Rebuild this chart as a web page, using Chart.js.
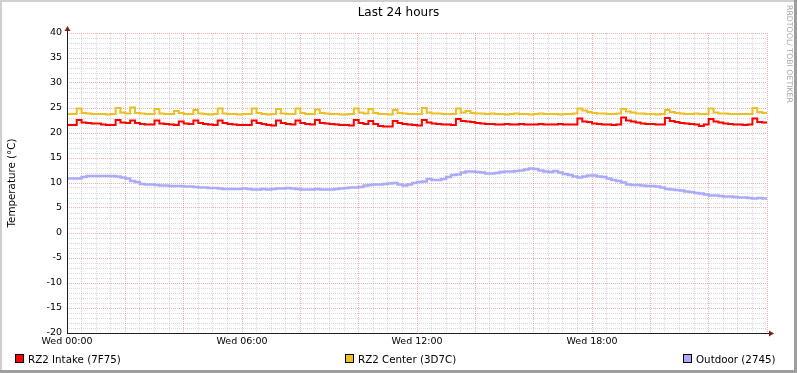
<!DOCTYPE html>
<html>
<head>
<meta charset="utf-8">
<title>Last 24 hours</title>
<script src="https://cdn.jsdelivr.net/npm/chart.js@4.4.1/dist/chart.umd.min.js"></script>
<style>
  html, body { margin: 0; padding: 0; background: #fff; }
  #wrap { width: 797px; height: 373px; }
</style>
</head>
<body>
<div id="wrap"><canvas id="tempChart" width="797" height="373"></canvas></div>
<script>
// 10 minute samples, Wed 00:00 -> Thu 00:00 (145 values each)
const intake = [
  21.6, 21.6, 22.6, 22.1, 22.0, 21.9, 21.9, 21.7, 21.6, 21.6,
  22.6, 22.1, 22.0, 22.5, 22.0, 21.8, 21.7, 21.7, 22.5, 21.9,
  21.8, 21.7, 21.6, 22.3, 21.9, 21.8, 22.5, 22.0, 21.8, 21.7,
  21.6, 22.5, 22.0, 21.8, 21.7, 21.6, 21.6, 21.6, 22.5, 22.0,
  21.8, 21.6, 21.5, 22.5, 22.0, 21.8, 21.7, 22.5, 22.0, 21.8,
  21.7, 22.6, 22.0, 21.9, 21.8, 21.7, 21.6, 21.6, 21.5, 22.6,
  22.0, 21.8, 22.4, 21.8, 21.4, 21.3, 21.3, 22.4, 22.0, 21.8,
  21.7, 21.6, 21.5, 22.6, 22.1, 21.9, 21.8, 21.7, 21.7, 21.6,
  22.8, 22.4, 22.3, 22.2, 22.0, 21.9, 21.8, 21.8, 21.7, 21.7,
  21.8, 21.7, 21.7, 21.8, 21.7, 21.7, 21.7, 21.8, 21.7, 21.7,
  21.7, 21.8, 21.7, 21.7, 21.7, 22.9, 22.3, 22.2, 21.9, 21.8,
  21.7, 21.7, 21.6, 21.7, 23.1, 22.5, 22.3, 22.1, 21.9, 21.8,
  21.8, 21.7, 21.7, 23.0, 22.4, 22.2, 22.0, 21.9, 21.8, 21.7,
  21.4, 21.7, 22.8, 22.3, 22.1, 21.9, 21.8, 21.7, 21.7, 21.6,
  21.7, 22.9, 22.2, 22.1, 22.0
];
const center = [
  23.8, 23.8, 24.9, 24.0, 23.9, 23.8, 23.8, 23.8, 23.7, 23.8,
  25.0, 24.1, 23.9, 25.1, 24.0, 23.9, 23.8, 23.8, 24.8, 23.9,
  23.8, 23.8, 24.4, 24.0, 23.8, 23.8, 24.6, 23.9, 23.8, 23.7,
  23.8, 24.9, 23.9, 23.8, 23.8, 23.7, 23.8, 23.8, 24.9, 24.0,
  23.8, 23.7, 23.8, 24.8, 23.9, 23.8, 23.8, 24.9, 24.0, 23.8,
  23.8, 24.7, 24.0, 23.9, 23.8, 23.8, 23.7, 23.7, 23.8, 24.9,
  24.1, 23.9, 24.8, 24.0, 23.8, 23.8, 23.7, 24.6, 24.0, 23.9,
  23.8, 23.8, 23.8, 25.0, 24.1, 23.9, 23.9, 23.8, 23.8, 23.8,
  24.9, 24.1, 24.4, 24.0, 23.9, 23.9, 23.8, 23.9, 23.8, 23.8,
  23.7, 23.8, 23.9, 23.8, 23.8, 23.7, 23.8, 23.9, 23.8, 23.8,
  23.8, 23.7, 23.8, 23.8, 23.9, 24.9, 24.5, 24.2, 24.0, 23.9,
  23.9, 23.8, 23.8, 23.9, 24.8, 24.3, 24.1, 23.9, 23.9, 23.8,
  23.8, 23.7, 23.8, 24.6, 24.2, 24.0, 23.9, 23.8, 23.8, 23.9,
  23.8, 23.8, 24.9, 24.1, 23.9, 23.9, 23.8, 23.8, 23.8, 23.8,
  23.8, 25.0, 24.2, 24.0, 23.9
];
const outdoor = [
  10.9, 10.9, 10.9, 11.2, 11.4, 11.4, 11.4, 11.4, 11.4, 11.4,
  11.3, 11.1, 10.9, 10.4, 10.2, 9.8, 9.7, 9.7, 9.6, 9.5,
  9.5, 9.4, 9.4, 9.4, 9.3, 9.3, 9.2, 9.1, 9.1, 9.0,
  9.0, 8.9, 8.8, 8.8, 8.8, 8.8, 8.9, 8.8, 8.7, 8.7,
  8.8, 8.7, 8.8, 8.9, 8.9, 9.0, 8.9, 8.8, 8.7, 8.7,
  8.7, 8.8, 8.7, 8.7, 8.7, 8.8, 8.9, 9.0, 9.1, 9.1,
  9.2, 9.5, 9.6, 9.7, 9.7, 9.8, 9.9, 10.0, 9.7, 9.5,
  9.7, 10.0, 10.2, 10.3, 10.8, 10.6, 10.6, 10.8, 11.2, 11.6,
  11.7, 12.1, 12.3, 12.3, 12.2, 12.1, 11.9, 11.9, 12.0, 12.2,
  12.3, 12.3, 12.4, 12.5, 12.7, 12.9, 12.8, 12.5, 12.3, 12.2,
  12.4, 12.1, 11.8, 11.6, 11.3, 11.1, 11.3, 11.5, 11.5, 11.3,
  11.2, 10.9, 10.6, 10.4, 10.1, 9.7, 9.6, 9.6, 9.5, 9.4,
  9.4, 9.3, 9.1, 8.8, 8.7, 8.6, 8.5, 8.3, 8.2, 8.0,
  7.9, 7.7, 7.5, 7.5, 7.4, 7.3, 7.3, 7.2, 7.1, 7.1,
  7.0, 6.9, 7.0, 6.9, 6.9
];

const seriesNames = ['RZ2 Intake (7F75)', 'RZ2 Center (3D7C)', 'Outdoor (2745)'];
const seriesColors = ['#FF0000', '#EAC024', '#AAAAF8'];
const xTickMinutes = [0, 360, 720, 1080];
const xTickLabels = ['Wed 00:00', 'Wed 06:00', 'Wed 12:00', 'Wed 18:00'];

const FONT = 'DejaVu Sans';
const minorGrid = 'rgba(140, 140, 140, 0.33)';
const majorGrid = 'rgba(222, 79, 79, 0.45)';

// minutes since Wed 00:00 for each sample
const toPoints = arr => arr.map((v, i) => ({ x: i * 10, y: v }));

// frame, title, axes with arrows, legend and watermark (rrdtool look)
const rrdDecor = {
  id: 'rrdDecor',
  beforeDraw(chart) {
    const ctx = chart.ctx;
    const w = chart.width, h = chart.height;
    ctx.save();
    ctx.fillStyle = '#FFFFFF';
    ctx.fillRect(0, 0, w, h);
    ctx.fillStyle = '#CFCFCF';
    ctx.fillRect(0, 0, w, 2);
    ctx.fillRect(0, 0, 2, h);
    ctx.fillStyle = '#9E9E9E';
    ctx.fillRect(0, h - 3, w, 3);
    ctx.fillRect(w - 3, 0, 3, h);
    ctx.restore();
  },
  afterDraw(chart) {
    const ctx = chart.ctx;
    const area = chart.chartArea;
    ctx.save();

    // title
    ctx.fillStyle = '#000';
    ctx.font = '12px "' + FONT + '"';
    ctx.textAlign = 'center';
    ctx.textBaseline = 'middle';
    ctx.fillText('Last 24 hours', chart.width / 2, 13);

    // axis lines
    ctx.strokeStyle = '#1F1F1F';
    ctx.lineWidth = 1;
    ctx.beginPath();
    ctx.moveTo(area.left + 0.5, area.bottom + 0.5);
    ctx.lineTo(area.left + 0.5, area.top - 4);
    ctx.moveTo(area.left, area.bottom + 0.5);
    ctx.lineTo(area.right + 3, area.bottom + 0.5);
    ctx.stroke();
    ctx.fillStyle = '#801F1F';
    ctx.beginPath();
    ctx.moveTo(area.left - 2.5, area.top - 2);
    ctx.lineTo(area.left + 3.5, area.top - 2);
    ctx.lineTo(area.left + 0.5, area.top - 7);
    ctx.closePath();
    ctx.fill();
    ctx.beginPath();
    ctx.moveTo(area.right + 2, area.bottom - 2.5);
    ctx.lineTo(area.right + 2, area.bottom + 3.5);
    ctx.lineTo(area.right + 7, area.bottom + 0.5);
    ctx.closePath();
    ctx.fill();

    // y unit title
    ctx.fillStyle = '#000';
    ctx.font = '10.3px "' + FONT + '"';
    ctx.translate(12, (area.top + area.bottom) / 2);
    ctx.rotate(-Math.PI / 2);
    ctx.textAlign = 'center';
    ctx.textBaseline = 'middle';
    ctx.fillText('Temperature (°C)', 0, 0);
    ctx.setTransform(1, 0, 0, 1, 0, 0);

    // watermark
    ctx.fillStyle = '#A8A8A8';
    ctx.font = '7.8px "' + FONT + '"';
    ctx.translate(789, 5);
    ctx.rotate(Math.PI / 2);
    ctx.textAlign = 'left';
    ctx.textBaseline = 'middle';
    ctx.fillText('RRDTOOL/ TOBI OETIKER', 0, 0);
    ctx.setTransform(1, 0, 0, 1, 0, 0);

    // legend
    const legendX = [15, 345, 683];
    ctx.font = '10.3px "' + FONT + '"';
    ctx.textAlign = 'left';
    ctx.textBaseline = 'alphabetic';
    seriesNames.forEach((name, i) => {
      const x = legendX[i];
      ctx.fillStyle = seriesColors[i];
      ctx.fillRect(x, 354, 9, 9);
      ctx.strokeStyle = '#000';
      ctx.strokeRect(x + 0.5, 354.5, 8, 8);
      ctx.fillStyle = '#000';
      ctx.fillText(name, x + 13, 362.5);
    });
    ctx.restore();
  }
};

new Chart(document.getElementById('tempChart'), {
  type: 'line',
  data: {
    datasets: [
      { label: seriesNames[0], data: toPoints(intake), borderColor: seriesColors[0], borderWidth: 2 },
      { label: seriesNames[1], data: toPoints(center), borderColor: seriesColors[1], borderWidth: 2 },
      { label: seriesNames[2], data: toPoints(outdoor), borderColor: seriesColors[2], borderWidth: 2.5 }
    ]
  },
  options: {
    responsive: false,
    animation: false,
    events: [],
    datasets: {
      line: { stepped: true, pointRadius: 0, fill: false, tension: 0 }
    },
    layout: { padding: { left: 0, top: 33, right: 30, bottom: 20 } },
    plugins: {
      legend: { display: false },
      title: { display: false },
      tooltip: { enabled: false }
    },
    scales: {
      x: {
        type: 'linear',
        min: 0,
        max: 1440,
        afterFit: s => { s.height = 20; },
        border: { display: false, dash: [1, 1] },
        grid: {
          drawTicks: false,
          color: c => (c.tick && c.tick.value % 120 === 0) ? majorGrid : minorGrid
        },
        ticks: {
          stepSize: 30,
          autoSkip: false,
          maxRotation: 0,
          padding: 3,
          color: '#000',
          font: { family: FONT, size: 9.5 },
          callback: v => {
            const k = xTickMinutes.indexOf(v);
            return k >= 0 ? xTickLabels[k] : '';
          }
        }
      },
      y: {
        min: -20,
        max: 40,
        afterFit: s => { s.width = 67; },
        border: { display: false, dash: [1, 1] },
        grid: {
          drawTicks: false,
          color: c => (c.tick && c.tick.value % 5 === 0) ? majorGrid : minorGrid
        },
        ticks: {
          stepSize: 1,
          autoSkip: false,
          padding: 5,
          color: '#000',
          font: { family: FONT, size: 9.5 },
          callback: v => (v % 5 === 0 ? String(v) : '')
        }
      }
    }
  },
  plugins: [rrdDecor]
});
</script>
</body>
</html>
